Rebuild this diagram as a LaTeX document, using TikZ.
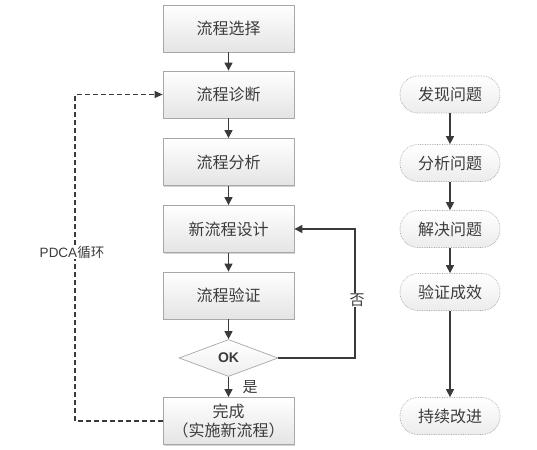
\documentclass[tikz,border=0pt]{standalone}
\usepackage{fontspec}
\newfontfamily\cjk{Noto Sans CJK SC}
\newfontfamily\lsans{Liberation Sans}
\usetikzlibrary{shapes.geometric,arrows.meta,shadows}
\definecolor{txt}{HTML}{3C3C3C}
\definecolor{edge}{HTML}{A8A8A8}
\definecolor{boxbot}{HTML}{E4E4E4}
\definecolor{arr}{HTML}{3A3A3A}
\tikzset{
  flowbox/.style={draw=edge, line width=0.8pt, minimum width=131pt, minimum height=47pt,
    top color=white, bottom color=boxbot, text=txt, align=center,
    font=\cjk\fontsize{16}{19}\selectfont,
    drop shadow={shadow xshift=1.2pt, shadow yshift=-1.2pt, opacity=0.35, fill=gray}},
  pill/.style={draw=edge, densely dotted, line width=0.7pt, rounded corners=18pt,
    minimum width=100pt, minimum height=37pt, top color=white, bottom color=boxbot!70,
    text=txt, font=\cjk\fontsize{16}{19}\selectfont},
  decide/.style={diamond, aspect=2.7, draw=edge, line width=0.7pt, inner sep=0pt,
    minimum width=99pt, minimum height=37pt, top color=white, bottom color=boxbot!60,
    font=\lsans\bfseries\fontsize{14}{16}\selectfont, text=arr},
  flow/.style={draw=arr, line width=1.2pt, -{Triangle[width=8pt,length=8pt]}},
  loop/.style={draw=arr, line width=1.1pt, dash pattern=on 5pt off 3pt, -{Triangle[width=7pt,length=8pt]}},
  lbl/.style={text=txt, fill=white, inner sep=1pt, font=\cjk\fontsize{15}{17}\selectfont}
}
\begin{document}
\begin{tikzpicture}[x=1pt,y=-1pt]
\useasboundingbox (0,0) rectangle (537,449);
% left column
\node[flowbox] (b1) at (228.5,28.5) {流程选择};
\node[flowbox] (b2) at (228.5,94.5) {流程诊断};
\node[flowbox] (b3) at (228.5,162) {流程分析};
\node[flowbox] (b4) at (228.5,229) {新流程设计};
\node[flowbox] (b5) at (228.5,295.5) {流程验证};
\node[decide] (ok) at (228.5,358) {OK};
\node[flowbox] (b6) at (228.5,421) {完成\\（实施新流程）};
\draw[flow] (b1) -- (b2);
\draw[flow] (b2) -- (b3);
\draw[flow] (b3) -- (b4);
\draw[flow] (b4) -- (b5);
\draw[flow] (b5) -- (ok);
\draw[flow] (ok) -- (b6);
\coordinate (nr) at (355,358);
\coordinate (nt) at (355,229);
\draw[flow] (ok.east) -- (nr) -- (nt) -- (b4.east);
\node[lbl] (no) at (357,300) {否};
\node[lbl, fill=none] (yes) at (250,387) {是};
\coordinate (ll) at (75,421);
\coordinate (lt) at (75,94.5);
\draw[loop] (b6.west) -- (ll) -- (lt) -- (b2.west);
\node[lbl, font=\fontsize{13.5}{15}\selectfont] (pdca) at (72,252) {\lsans PDCA\cjk 循环};
% right column
\node[pill] (r1) at (450,94.5) {发现问题};
\node[pill] (r2) at (450,163) {分析问题};
\node[pill] (r3) at (450,229) {解决问题};
\node[pill] (r4) at (450,292) {验证成效};
\node[pill] (r5) at (450,416) {持续改进};
\draw[flow] (r1) -- (r2);
\draw[flow] (r2) -- (r3);
\draw[flow] (r3) -- (r4);
\draw[flow] (r4) -- (r5);
\end{tikzpicture}
\end{document}
